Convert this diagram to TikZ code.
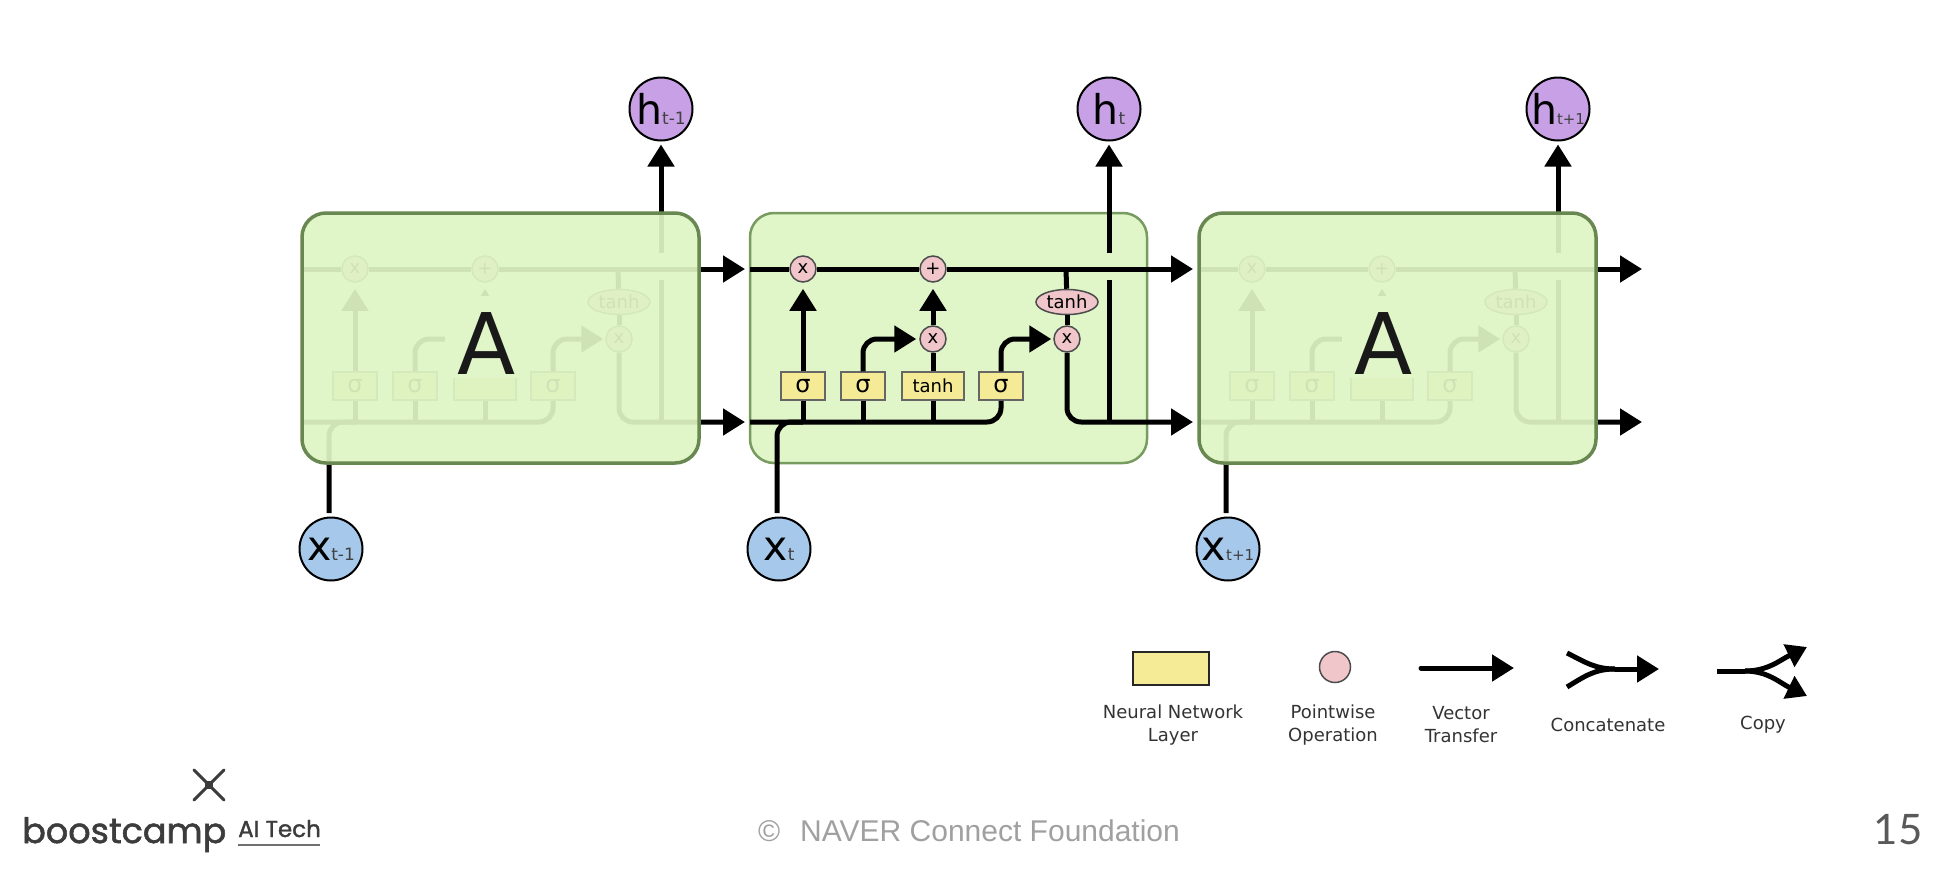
\documentclass[tikz,border=0pt]{standalone}
\usepackage{fontspec}
\setmainfont{DejaVu Sans}
\newfontfamily\logofont[FakeBold=1.5]{Poppins}
\newfontfamily\footfont{Liberation Sans}
\newfontfamily\pagefont{Lato}
\usetikzlibrary{arrows.meta,shapes.geometric}
\definecolor{cellgreen}{RGB}{222,244,196}
\definecolor{flatgreen}{RGB}{224,245,200}
\definecolor{cellline}{RGB}{120,155,95}
\definecolor{ghostline}{RGB}{105,135,80}
\definecolor{layeryellow}{RGB}{245,235,150}
\definecolor{oppink}{RGB}{240,198,202}
\definecolor{hpurple}{RGB}{200,160,230}
\definecolor{xblue}{RGB}{165,200,235}
\definecolor{footgrey}{RGB}{160,160,160}
\definecolor{logogrey}{RGB}{60,60,60}
\newcommand{\fsz}[1]{\fontsize{#1}{#1}\selectfont}
\newcommand{\lbl}[3]{\fsz{41}#1{\fsz{#3}\color{black!75}#2}}
% one cell, drawn at the coordinates of the middle one
\newcommand{\lstmcell}[5]{
	\coordinate (#1tl) at (750,269);
	\coordinate (#1te) at (1193,269);
	\coordinate (#1bl) at (750,422);
	\coordinate (#1be) at (1193,422);
	\coordinate (#1tj) at (1066,269);
	\coordinate (#1hj) at (1109,422);
	\coordinate (#1hb) at (1109,280);
	\coordinate (#1ha) at (1109,253);
	\coordinate (#1xa) at (777,513);
	\node [op] (#1m1) at (803,269) {x};
	\node [op] (#1pl) at (933,269) {+};
	\node [op] (#1m2) at (933,339) {#5};
	\node [op] (#1m3) at (1067,339) {x};
	\node [opell] (#1te2) at (1067,302) {tanh};
	\node [layer] (#1s1) at (803,386) {\fsz{24}σ};
	\node [layer] (#1s2) at (863,386) {\fsz{24}σ};
	\node [layer, minimum width=62pt] (#1tn) at (933,386) {#4};
	\node [layer] (#1s3) at (1001,386) {\fsz{24}σ};
	\node [hout] (#1h) at (1109,109) {\lbl{h}{#2}{#3}};
	\node [xin] (#1x) at (779,549) {\lbl{x}{#2}{#3}};
	\draw [vec] (#1tl) -- (#1m1);
	\draw [vec] (#1m1) -- (#1pl);
	\draw [vec, arr] (#1pl) -- (#1te);
	\draw [vec] (#1tj) -- (#1te2);
	\draw [vec] (#1te2) -- (#1m3);
	\draw [vec, arr, rounded corners=14pt] (#1m3) |- (#1be);
	\draw [vec] (#1hj) -- (#1hb);
	\draw [vec, arr, shorten >=3pt] (#1ha) -- (#1h);
	\draw [vec, rounded corners=14pt] (#1bl) -| (#1s3);
	\draw [vec, rounded corners=14pt] (#1xa) |- (#1s1 |- #1bl);
	\draw [vec] (#1s1) -- (#1s1 |- #1bl);
	\draw [vec] (#1s2) -- (#1s2 |- #1bl);
	\draw [vec] (#1tn) -- (#1tn |- #1bl);
	\draw [vec, arr, shorten >=6pt] (#1s1) -- (#1m1);
	\draw [vec] (#1tn) -- (#1m2);
	\draw [vec, arr, shorten >=6pt] (#1m2) -- (#1pl);
	\draw [vec, arr, rounded corners=14pt, shorten >=3pt] (#1s2) |- (#1m2);
	\draw [vec, arr, rounded corners=14pt, shorten >=2pt] (#1s3) |- (#1m3);
}
\begin{document}
\begin{tikzpicture}[
		x=1pt, y=-1pt
		,vec/.style={line width=5pt}
		,arr/.style={-{Triangle[length=22pt,width=26pt]}}
		,cellbox/.style={draw=cellline, line width=2.5pt, rounded corners=24pt, fill=flatgreen, minimum width=397pt, minimum height=250pt, inner sep=0pt}
		,ghost/.style={fill=cellgreen, fill opacity=.93, draw=ghostline, line width=3.5pt}
		,op/.style={circle, draw=black!70, line width=1.5pt, fill=oppink, minimum size=26pt, inner sep=0pt, font=\fsz{18}}
		,opell/.style={ellipse, draw=black!70, line width=1.5pt, fill=oppink, minimum width=62pt, minimum height=25pt, inner sep=0pt, font=\fsz{18}}
		,layer/.style={draw=black!60, line width=1.5pt, fill=layeryellow, minimum width=44pt, minimum height=28pt, inner sep=0pt, font=\fsz{18}}
		,hout/.style={circle, draw=black, line width=2pt, fill=hpurple, minimum size=63pt, inner sep=0pt}
		,xin/.style={circle, draw=black, line width=2pt, fill=xblue, minimum size=63pt, inner sep=0pt}
		,biga/.style={font=\fsz{85}, text=black!90, inner sep=0pt}
		,legend/.style={font=\fontsize{18}{23}\selectfont, align=center, text=black!80, inner sep=0pt}
	]
	\useasboundingbox (0,0) rectangle (1946,876);
	% left cell under the box
	\begin{scope}[xshift=-448pt]
		\lstmcell{a}{t-1}{17}{}{}
		\node [cellbox, ghost] (boxa) at (948.5,338) {};
		\fill [flatgreen] (893,296) rectangle (978,378);
		\node [biga] (la) at (935,344) {A};
	\end{scope}
	% middle cell on top of the box
	\node [cellbox] (boxb) at (948.5,338) {};
	\lstmcell{b}{t}{17}{tanh}{x}
	% right cell under the box
	\begin{scope}[xshift=449pt]
		\lstmcell{c}{t+1}{15}{}{}
		\node [cellbox, ghost] (boxc) at (948.5,338) {};
		\fill [flatgreen] (893,296) rectangle (978,378);
		\node [biga] (lc) at (935,344) {A};
	\end{scope}
	% legend
	\node [layer, minimum width=76pt, minimum height=33pt, line width=2pt, draw=black!85] (lgy) at (1171,668) {};
	\node [op, minimum size=31pt] (lgo) at (1335,667) {};
	\coordinate (va) at (1421,668);
	\coordinate (vb) at (1514,668);
	\draw [vec, arr, line cap=round] (va) -- (vb);
	\coordinate (ca) at (1567,653);
	\coordinate (cb) at (1567,687);
	\coordinate (cm) at (1615,669);
	\coordinate (ce) at (1659,669);
	\draw [vec] (ca) .. controls (1585,662) and (1595,669) .. (cm);
	\draw [vec] (cb) .. controls (1585,676) and (1595,669) .. (cm);
	\draw [vec, arr] (cm) -- (ce);
	\coordinate (ka) at (1717,671);
	\coordinate (km) at (1745,671);
	\coordinate (ke) at (1807,647);
	\coordinate (kf) at (1807,696);
	\draw [vec] (ka) -- (km);
	\draw [vec, -{Triangle[length=20pt,width=24pt]}] (km) .. controls (1768,671) and (1780,660) .. (ke);
	\draw [vec, -{Triangle[length=20pt,width=24pt]}] (km) .. controls (1768,671) and (1780,683) .. (kf);
	\node [legend] (t1) at (1173,725) {Neural Network\\Layer};
	\node [legend] (t2) at (1333,725) {Pointwise\\Operation};
	\node [legend] (t3) at (1461,725) {Vector\\Transfer};
	\node [legend] (t4) at (1608,725) {Concatenate};
	\node [legend] (t5) at (1763,725) {Copy};
	% footer
	\coordinate (mk) at (209,785);
	\draw [logogrey, line width=3pt, line cap=round] (mk) ++(-15,-15) -- ++(30,30);
	\draw [logogrey, line width=3pt, line cap=round] (mk) ++(15,-15) -- ++(-30,30);
	\fill [logogrey] (mk) ++(-4,-4) rectangle ++(8,8);
	\node [anchor=base west, inner sep=0pt, text=logogrey, font=\logofont\fsz{35}] (logo) at (22,843) {boostcamp};
	\node [anchor=base west, inner sep=0pt, text=logogrey, font=\logofont\fsz{23}] (tech) at (238,837) {AI Tech};
	\draw [footgrey!70!black, line width=1.5pt] (238,845) -- (320,845);
	\node [inner sep=0pt, text=footgrey, font=\footfont\fsz{30}] (foot) at (969,831) {©\hspace{20pt}NAVER Connect Foundation};
	\node [inner sep=0pt, text=black!65, font=\pagefont\fsz{42}] (page) at (1898,830) {15};
\end{tikzpicture}
\end{document}
